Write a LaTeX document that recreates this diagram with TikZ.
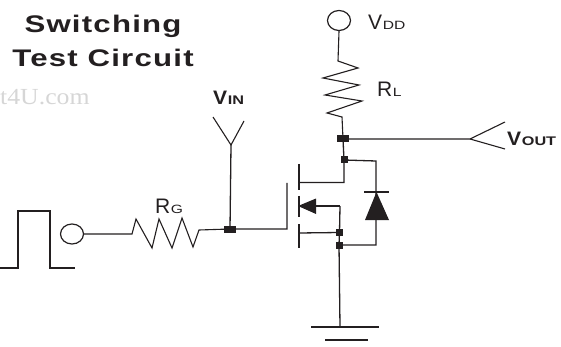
\documentclass[tikz,border=0pt]{standalone}
\usetikzlibrary{shapes.geometric}
\usepackage{fontspec}
\setmainfont{Liberation Sans}
\newfontfamily\titlefont[FakeStretch=1.3,LetterSpace=5]{Liberation Sans Bold}
\newfontfamily\serifwm[FakeStretch=1.12]{Liberation Serif}
\newfontfamily\stretchreg[FakeStretch=1.3]{Liberation Sans}
\newfontfamily\stretchbold[FakeStretch=1.3]{Liberation Sans Bold}
\newfontfamily\mainbold[FakeStretch=1.08]{Liberation Sans Bold}
\definecolor{ink}{HTML}{231F20}
\tikzset{
  wire/.style={draw=ink,line width=1.3pt,line join=miter},
  thin wire/.style={draw=ink,line width=1.1pt},
  junction/.style={fill=ink,draw=none,inner sep=0pt,minimum width=#1,minimum height=7pt,rectangle},
  junction/.default=7pt,
  titletext/.style={inner sep=0pt,text=ink,anchor=base,font=\titlefont\fontsize{24}{24}\selectfont},
  lab/.style={inner sep=0pt,text=ink,anchor=base west},
  terminal/.style={draw=ink,line width=1.2pt,ellipse,minimum width=23pt,minimum height=20pt,inner sep=0pt}
}
\newcommand{\vlab}[2]{{\fontsize{21}{21}\selectfont #1\kern0.6pt\stretchreg\fontsize{12}{12}\selectfont #2}}
\newcommand{\vblab}[2]{{\mainbold\fontsize{19.5}{19.5}\selectfont #1\kern0.6pt\stretchbold\fontsize{12.5}{12.5}\selectfont #2}}
\begin{document}
\begin{tikzpicture}[x=1pt,y=-1pt]
\useasboundingbox (0,0) rectangle (561,347);
% title and watermark
\node[titletext] (t1) at (103,33) {Switching};
\node[titletext] (t2) at (103,67) {Test Circuit};
\node[inner sep=0pt,anchor=base west,text=black!16,font=\serifwm\fontsize{23}{23}\selectfont] (wm) at (0,105) {t4U.com};
% labels
\node[lab] (lvin) at (213,105) {\vblab{V}{IN}};
\node[lab] (lvdd) at (368,30) {\vlab{V}{DD}};
\node[lab] (lrl) at (377,97) {\vlab{R}{L}};
\node[lab] (lrg) at (155,213) {\vlab{R}{G}};
\node[lab] (lvout) at (507,146) {\vblab{V}{OUT}};
% junctions and terminals
\node[junction=12pt] (jout) at (343,139) {};
\node[junction] (jd) at (344,160) {};
\node[junction=12pt] (jin) at (230,229) {};
\node[junction] (jb) at (339.5,232.5) {};
\node[junction] (js) at (339,245) {};
\node[terminal] (vdd) at (339,20.5) {};
\node[terminal] (src) at (72,234) {};
% pulse
\draw[wire] (0,268) -- (18,268) -- (18,211) -- (50,211) -- (50,268) -- (75,268);
% gate resistor
\draw[thin wire] (src.east) -- (132,234) -- (136,219) -- (152,248) -- (159,219) -- (172,248) -- (182,218) -- (193,247) -- (199,230) -- (jin.center) -- (287,229) -- (287,183);
% VIN
\coordinate (vinl) at (213,117);
\coordinate (vinr) at (244,121);
\coordinate (vinj) at (231,145);
\draw[thin wire] (vinl) -- (vinj) -- (vinr);
\draw[wire] (vinj) -- (jin.center);
% load resistor
\draw[thin wire] (vdd.south) -- (338,61) -- (358,68) -- (323,78) -- (359,85) -- (325,95) -- (362,101) -- (327,113) -- (342,117) -- (jout.center);
% VOUT
\coordinate (voutj) at (470,139);
\draw[thin wire] (jout.center) -- (voutj) -- (505,122);
\draw[thin wire] (voutj) -- (505,149);
% MOSFET
\draw[wire] (jout.center) -- (jd.center) -- (344,182.5) -- (299,182.5);
\draw[wire] (299,164) -- (299,190);
\draw[wire] (299,196) -- (299,217);
\draw[wire] (299,224) -- (299,248);
\draw[wire] (299,233) -- (jb.center);
\draw[line width=1.8pt,draw=ink] (316,206) -- (340,206);
\draw[wire] (340,206) -- (jb.center) -- (js.center) -- (340,327);
\fill[ink] (298,206) -- (316,198.5) -- (316,214) -- cycle;
% diode
\draw[wire] (jd.center) -- (376,161) -- (376,245) -- (js.center);
\draw[wire] (364,192) -- (389,192);
\fill[ink] (376.5,192) -- (365,220) -- (389,220) -- cycle;
% ground
\draw[wire] (311,327) -- (379,327);
\draw[wire] (325,340) -- (368,340);
\end{tikzpicture}
\end{document}
